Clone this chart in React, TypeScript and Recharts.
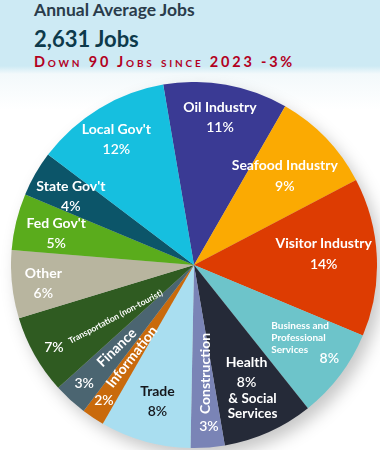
import { PieChart, Pie, Cell } from "recharts";

const categories = [
  "Oil Industry",
  "Seafood Industry",
  "Visitor Industry",
  "Business and Professional Services",
  "Health & Social Services",
  "Construction",
  "Trade",
  "Information",
  "Finance",
  "Transportation (non-tourist)",
  "Other",
  "Fed Gov't",
  "State Gov't",
  "Local Gov't",
];
const shares = [11, 9, 14, 8, 8, 3, 8, 2, 3, 7, 6, 5, 4, 12];
const colors = [
  "#3a3a94",
  "#fbaa02",
  "#dd3c02",
  "#6dc4ca",
  "#252a38",
  "#7a84b6",
  "#a9def0",
  "#c96a0c",
  "#4b6571",
  "#2f5b21",
  "#b8b59f",
  "#5aac1c",
  "#0c5569",
  "#16bfdf",
];

const data = categories.map((name, i) => ({ name, value: shares[i] }));

// label placement: radius (px) and clockwise angle shift from the slice middle
type Lay = {
  lines: string[];
  r: number;
  d: number;
  rot?: number;
  pr?: number;
  pd?: number;
  size?: number;
  color?: string;
};
const labelLayout: Lay[] = [
  { lines: ["Oil Industry"], r: 148, d: 0 },
  { lines: ["Seafood Industry"], r: 126, d: 0 },
  { lines: ["Visitor Industry"], r: 130, d: -1.5 },
  { lines: ["Business and", "Professional", "Services"], r: 128, d: 0.6 },
  { lines: ["Health", "& Social", "Services"], r: 136, d: 0 },
  { lines: ["Construction"], r: 109, d: -1.4, rot: -90, pr: 161, pd: -1 },
  { lines: ["Trade"], r: 143, d: -0.7, color: "#15171c" },
  { lines: ["Information"], r: 111, d: 1, rot: -52, pr: 162, pd: 0.3 },
  { lines: ["Finance"], r: 113, d: 1.1, rot: -44, pr: 161, pd: 0.5 },
  { lines: ["Transportation (non-tourist)"], r: 94, d: -3.9, rot: -28, pr: 162, pd: -0.7, size: 8.5 },
  { lines: ["Other"], r: 152, d: -1.5 },
  { lines: ["Fed Gov't"], r: 141, d: -1.5 },
  { lines: ["State Gov't"], r: 140, d: -1.5 },
  { lines: ["Local Gov't"], r: 146, d: -0.8 },
];

const RAD = Math.PI / 180;
const at = (cx: number, cy: number, r: number, a: number) => [
  cx + r * Math.cos(-a * RAD),
  cy + r * Math.sin(-a * RAD),
];

function renderLabel(props: any) {
  const { cx, cy, midAngle, index, value } = props;
  const lay = labelLayout[index];
  const fill = lay.color ?? "#ffffff";
  const size = lay.size ?? 14;
  const pct = `${value}%`;
  const [x, y] = at(cx, cy, lay.r, midAngle - lay.d);
  const common = {
    fontFamily: "Lato, sans-serif",
    fill,
    textAnchor: "middle" as const,
    dominantBaseline: "central" as const,
  };

  if (lay.rot !== undefined) {
    const [px, py] = at(cx, cy, lay.pr!, midAngle - lay.pd!);
    return (
      <g>
        <text {...common} x={x} y={y} fontSize={size} fontWeight={700} transform={`rotate(${lay.rot} ${x} ${y})`}>
          {lay.lines[0]}
        </text>
        <text {...common} x={px} y={py} fontSize={14} fontWeight={600}>
          {pct}
        </text>
      </g>
    );
  }

  if (index === 3) {
    return (
      <g>
        {lay.lines.map((t, i) => (
          <text key={t} {...common} textAnchor="start" x={x - 24} y={y - 18 + i * 12} fontSize={10} fontWeight={700}>
            {t}
          </text>
        ))}
        <text {...common} x={x + 34} y={y + 14} fontSize={14} fontWeight={600}>
          {pct}
        </text>
      </g>
    );
  }

  if (index === 4) {
    return (
      <g>
        <text {...common} x={x - 3} y={y - 28} fontSize={14} fontWeight={700}>Health</text>
        <text {...common} x={x - 3} y={y - 8} fontSize={14} fontWeight={600}>{pct}</text>
        <text {...common} x={x + 3} y={y + 9} fontSize={13.5} fontWeight={700}>& Social</text>
        <text {...common} x={x + 3} y={y + 24} fontSize={13.5} fontWeight={700}>Services</text>
      </g>
    );
  }

  return (
    <g>
      <text {...common} x={x} y={y - 13} fontSize={size} fontWeight={700}>
        {lay.lines[0]}
      </text>
      <text {...common} x={x} y={y + 7.5} fontSize={14} fontWeight={600}>
        {pct}
      </text>
    </g>
  );
}

export default function App() {
  return (
    <div
      style={{
        position: "absolute",
        left: 0,
        top: 0,
        width: 380,
        height: 450,
        overflow: "hidden",
        background: "linear-gradient(#cdeaf4 0px, #cdeaf4 66px, #f3f9fb 74px, #ffffff 110px)",
      }}
    >
      <svg width={380} height={72} style={{ position: "absolute", left: 0, top: 0 }}>
        <text x={34} y={16} fontFamily="Lato, sans-serif" fontWeight={700} fontSize={17.5} fill="#2a3c4b">
          Annual Average Jobs
        </text>
        <text x={34} y={47} fontFamily="Lato, sans-serif" fontWeight={700} fontSize={22} fill="#0d3a4b">
          2,631 Jobs
        </text>
        <text
          x={34}
          y={67}
          fontFamily="Lato, sans-serif"
          fontWeight={700}
          fontSize={14.5}
          letterSpacing={2.8}
          fill="#b3001e"
          style={{ fontVariant: "small-caps" }}
        >
          Down 90 Jobs since 2023 -3%
        </text>
      </svg>
      <div style={{ position: "absolute", left: 0, top: 0, filter: "drop-shadow(6px 8px 8px rgba(0,0,0,0.22))" }}>
        <PieChart width={380} height={450}>
          <Pie
            data={data}
            dataKey="value"
            nameKey="name"
            cx={189}
            cy={260}
            outerRadius={183}
            startAngle={99.7}
            endAngle={-260.3}
            stroke="none"
            labelLine={false}
            label={renderLabel}
            isAnimationActive={false}
          >
            {data.map((d, i) => (
              <Cell key={d.name} fill={colors[i]} />
            ))}
          </Pie>
        </PieChart>
      </div>
    </div>
  );
}
